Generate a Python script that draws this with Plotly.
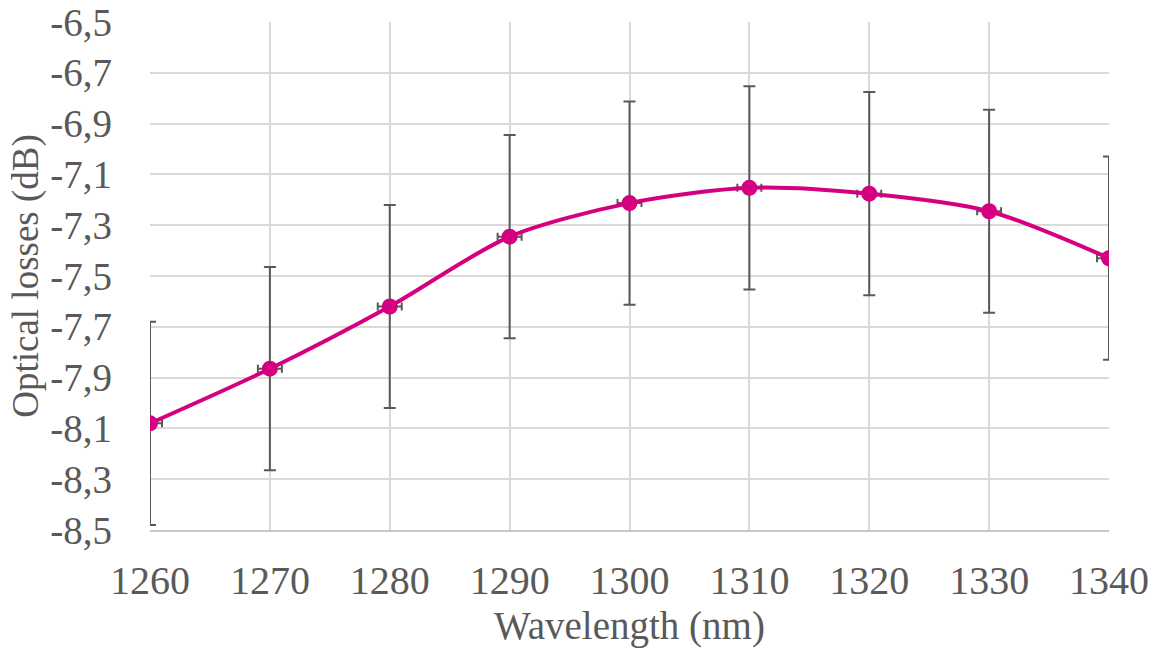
import plotly.graph_objects as go

wavelength = [1260, 1270, 1280, 1290, 1300, 1310, 1320, 1330, 1340]
losses = [-8.08, -7.865, -7.62, -7.345, -7.213, -7.153, -7.176, -7.245, -7.43]
y_err = [0.4, 0.4, 0.4, 0.4, 0.4, 0.4, 0.4, 0.4, 0.4]
x_err = [1, 1, 1, 1, 1, 1, 1, 1, 1]
y_ticks = [-8.5, -8.3, -8.1, -7.9, -7.7, -7.5, -7.3, -7.1, -6.9, -6.7, -6.5]
y_tick_text = ["-8,5", "-8,3", "-8,1", "-7,9", "-7,7", "-7,5", "-7,3", "-7,1", "-6,9", "-6,7", "-6,5"]
x_ticks = [1260, 1270, 1280, 1290, 1300, 1310, 1320, 1330, 1340]

FONT = "Liberation Serif"
TXT = "#595959"
MAG = "#D5007F"

fig = go.Figure()
fig.add_trace(go.Scatter(
    x=wavelength, y=losses, mode="lines+markers",
    line=dict(color=MAG, width=4, shape="spline", smoothing=0.8),
    marker=dict(color=MAG, size=16),
    error_y=dict(type="data", array=y_err, visible=True, color="#595959", thickness=2, width=6),
    error_x=dict(type="data", array=x_err, visible=True, color="#595959", thickness=2, width=4),
    cliponaxis=True,
))

fig.update_layout(
    width=1157, height=653,
    margin=dict(l=150, r=48, t=22, b=123),
    plot_bgcolor="white", paper_bgcolor="white",
    showlegend=False,
    font=dict(family=FONT, color=TXT, size=38),
)
fig.update_xaxes(
    range=[1260, 1340], tickvals=x_ticks,
    showgrid=True, gridcolor="#D9D9D9", gridwidth=1.5,
    showline=True, linecolor="#C8C8C8", linewidth=2,
    ticks="", ticklabelstandoff=14, automargin=False, ticklabeloverflow="allow",
    tickfont=dict(family=FONT, size=40, color=TXT),
    title=dict(text="Wavelength (nm)", font=dict(family=FONT, size=39, color=TXT), standoff=10),
    zeroline=False,
)
fig.update_yaxes(
    range=[-8.5, -6.5], tickvals=y_ticks, ticktext=y_tick_text,
    showgrid=True, gridcolor="#D9D9D9", gridwidth=1.5,
    showline=False, ticks="", ticklabelstandoff=37, automargin=False, ticklabeloverflow="allow",
    tickfont=dict(family=FONT, size=39, color=TXT),
    title=dict(text="Optical losses (dB)", font=dict(family=FONT, size=37, color=TXT), standoff=0),
    zeroline=False,
)

fig.write_html("out.html", post_script="document.body.style.margin='0';",
               config={"displayModeBar": False})
